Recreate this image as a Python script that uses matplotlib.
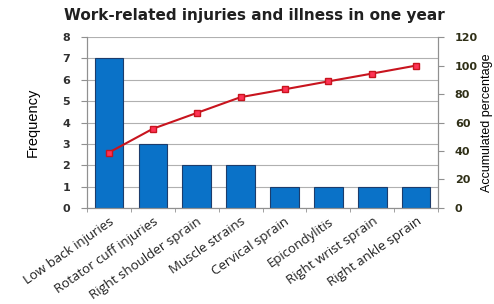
import matplotlib
matplotlib.use("Agg")
import matplotlib.pyplot as plt
import numpy as np

categories = ['Low back injuries', 'Rotator cuff injuries', 'Right shoulder sprain',
              'Muscle strains', 'Cervical sprain', 'Epicondylitis',
              'Right wrist sprain', 'Right ankle sprain']
frequency = [7, 3, 2, 2, 1, 1, 1, 1]
accumulated = [38.9, 55.6, 66.7, 77.8, 83.3, 88.9, 94.4, 100.0]
left_ticks = [0, 1, 2, 3, 4, 5, 6, 7, 8]
right_ticks = [0, 20, 40, 60, 80, 100, 120]

fig = plt.figure(figsize=(4.94, 3.04), dpi=100)
ax = fig.add_axes([0.176, 0.316, 0.711, 0.562])
x = np.arange(len(categories))

for t in left_ticks:
    ax.axhline(t, color='#b0b0b0', linewidth=0.8, zorder=0)
ax.bar(x, frequency, width=0.65, color='#0a72c8', edgecolor='#1c3c6c', linewidth=0.8, zorder=2)
ax.set_ylim(0, 8)
ax.set_xlim(-0.5, len(categories) - 0.5)
ax.set_yticks(left_ticks)
ax.set_xticks(x)
ax.set_xticklabels(categories, rotation=35, ha='right', rotation_mode='anchor',
                   fontsize=9.5, family='Open Sans', color='#202020')
ax.tick_params(axis='x', length=0, pad=5)
ax.set_xticks(np.arange(-0.5, len(categories), 1), minor=True)
ax.tick_params(axis='x', which='minor', length=3, color='#909090')
ax.tick_params(axis='y', length=4, color='#909090', labelsize=8, labelcolor='#303030', pad=8)
for lab in ax.get_yticklabels():
    lab.set_fontweight('bold')
ax.set_ylabel('Frequency', fontsize=10.5, family='Liberation Sans', labelpad=16)
ax.spines['top'].set_visible(False)
for s in ['left', 'right', 'bottom']:
    ax.spines[s].set_color('#909090')

ax2 = ax.twinx()
ax2.plot(x, accumulated, color='#c8141e', linewidth=1.5, marker='s', markersize=5,
         markerfacecolor='#ff3355', markeredgecolor='#c8141e', zorder=3)
ax2.set_ylim(0, 120)
ax2.set_yticks(right_ticks)
ax2.tick_params(axis='y', length=4, color='#909090', labelsize=8, labelcolor='#303018', pad=8)
for lab in ax2.get_yticklabels():
    lab.set_fontweight('bold')
ax2.set_ylabel('Accumulated percentage', fontsize=9, family='Liberation Sans', labelpad=2)
ax2.spines['top'].set_visible(False)
for s in ['left', 'right', 'bottom']:
    ax2.spines[s].set_color('#909090')

fig.suptitle('Work-related injuries and illness in one year', x=0.515, y=0.975,
             fontsize=11, fontweight='bold', color='#202020')

fig.savefig('out.png', dpi=100)
